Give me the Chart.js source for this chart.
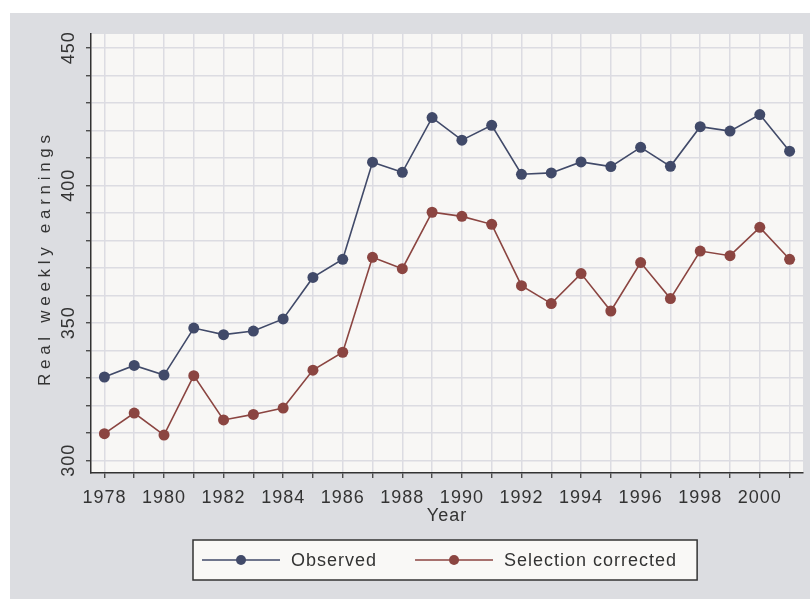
<!DOCTYPE html>
<html lang="en">
<head>
  <meta charset="UTF-8">
  <title>Real weekly earnings</title>
  <script src="https://cdn.jsdelivr.net/npm/chart.js"></script>
  <style>
    html, body { margin: 0; padding: 0; background: #ffffff; }
    #wrap { position: absolute; left: 10px; top: 13px; width: 800px; height: 586px; background: #dcdde1; }
  </style>
</head>
<body>
  <div id="wrap"><canvas id="myChart" width="800" height="586"></canvas></div>

  <script>
    // data
    const years = [1978, 1979, 1980, 1981, 1982, 1983, 1984, 1985, 1986, 1987, 1988, 1989,
                   1990, 1991, 1992, 1993, 1994, 1995, 1996, 1997, 1998, 1999, 2000, 2001];
    const observed = [330.3, 334.5, 331.0, 348.1, 345.7, 347.0, 351.4, 366.5, 373.1, 408.4, 404.7, 424.6,
                      416.4, 421.8, 404.0, 404.5, 408.5, 406.8, 413.8, 406.9, 421.3, 419.7, 425.7, 412.4];
    const corrected = [309.7, 317.2, 309.2, 330.8, 314.7, 316.7, 319.0, 332.8, 339.3, 373.8, 369.7, 390.2,
                       388.7, 385.8, 363.5, 357.0, 367.9, 354.3, 371.9, 358.8, 376.1, 374.4, 384.7, 373.1];
    const yLabels = [300, 350, 400, 450];
    const seriesNames = ['Observed', 'Selection corrected'];
    const seriesColors = ['#414a69', '#8b4541'];
    const yTitle = 'Real weekly earnings';
    const xTitle = 'Year';

    const fontFamily = '"Liberation Sans", Arial, sans-serif';
    const textColor = '#333333';
    Chart.defaults.font.family = fontFamily;
    Chart.defaults.font.size = 18;
    Chart.defaults.color = textColor;

    function toPoints(values) {
      return years.map((yr, i) => ({ x: yr, y: values[i] }));
    }

    // background, letter spacing, y title and boxed legend
    const stataLook = {
      id: 'stataLook',
      beforeLayout(chart) {
        chart.ctx.letterSpacing = '1px';
      },
      beforeDraw(chart) {
        const ctx = chart.ctx;
        const a = chart.chartArea;
        ctx.letterSpacing = '1px';
        ctx.save();
        ctx.fillStyle = '#dcdde1';
        ctx.fillRect(0, 0, chart.width, chart.height);
        ctx.fillStyle = '#f8f7f5';
        ctx.fillRect(a.left, a.top, a.right - a.left, a.bottom - a.top);
        ctx.restore();
      },
      afterDraw(chart) {
        const ctx = chart.ctx;
        const a = chart.chartArea;

        // y axis title, spaced out letters
        ctx.save();
        ctx.font = '17px ' + fontFamily;
        ctx.letterSpacing = '4.7px';
        ctx.fillStyle = textColor;
        ctx.textBaseline = 'alphabetic';
        ctx.textAlign = 'left';
        const tw = ctx.measureText(yTitle).width - 4.7;
        ctx.translate(40, (a.top + a.bottom) / 2 + 7);
        ctx.rotate(-Math.PI / 2);
        ctx.fillText(yTitle, -tw / 2, 0);
        ctx.restore();

        // legend
        ctx.save();
        ctx.font = '18px ' + fontFamily;
        ctx.letterSpacing = '1px';
        const sampleW = 78, textGap = 11, itemGap = 38, padL = 9, padR = 20;
        const widths = seriesNames.map(n => ctx.measureText(n).width);
        let total = padL + padR + itemGap * (seriesNames.length - 1);
        widths.forEach(w => { total += sampleW + textGap + w; });
        const boxL = Math.round((a.left + a.right) / 2 - total / 2) - 2;
        const boxT = 527, boxH = 40;
        ctx.fillStyle = '#f9f8f6';
        ctx.fillRect(boxL, boxT, total, boxH);
        ctx.strokeStyle = '#333333';
        ctx.lineWidth = 1.5;
        ctx.strokeRect(boxL, boxT, total, boxH);
        const cy = boxT + boxH / 2;
        let x = boxL + padL;
        seriesNames.forEach((name, i) => {
          ctx.strokeStyle = seriesColors[i];
          ctx.lineWidth = 1.5;
          ctx.beginPath();
          ctx.moveTo(x, cy);
          ctx.lineTo(x + sampleW, cy);
          ctx.stroke();
          ctx.fillStyle = seriesColors[i];
          ctx.beginPath();
          ctx.arc(x + sampleW / 2, cy, 5, 0, Math.PI * 2);
          ctx.fill();
          ctx.fillStyle = textColor;
          ctx.textAlign = 'left';
          ctx.textBaseline = 'middle';
          ctx.fillText(name, x + sampleW + textGap, cy + 1);
          x += sampleW + textGap + widths[i] + itemGap;
        });
        ctx.restore();
      }
    };

    const ctx = document.getElementById('myChart').getContext('2d');
    const chart = new Chart(ctx, {
      type: 'line',
      data: {
        datasets: [
          {
            label: seriesNames[0],
            data: toPoints(observed),
            borderColor: seriesColors[0],
            backgroundColor: seriesColors[0],
            borderWidth: 1.6,
            pointRadius: 5.5,
            pointBorderWidth: 0,
            pointBackgroundColor: seriesColors[0],
            tension: 0
          },
          {
            label: seriesNames[1],
            data: toPoints(corrected),
            borderColor: seriesColors[1],
            backgroundColor: seriesColors[1],
            borderWidth: 1.6,
            pointRadius: 5.5,
            pointBorderWidth: 0,
            pointBackgroundColor: seriesColors[1],
            tension: 0
          }
        ]
      },
      options: {
        responsive: false,
        animation: false,
        events: [],
        layout: { padding: { left: 0, right: 7, top: 21, bottom: 72 } },
        plugins: {
          legend: { display: false },
          tooltip: { enabled: false }
        },
        scales: {
          x: {
            type: 'linear',
            min: 1977.55,
            max: 2001.45,
            grid: { color: '#dcdce2', lineWidth: 1.5, tickColor: '#333333', tickLength: 5, tickWidth: 1.2 },
            border: { display: true, color: '#333333', width: 1.5 },
            ticks: {
              stepSize: 1,
              includeBounds: false,
              autoSkip: false,
              maxRotation: 0,
              padding: 9,
              color: textColor,
              callback: v => (v % 2 === 0 ? String(v) : '')
            },
            title: { display: true, text: xTitle, color: textColor, font: { size: 18 }, padding: 0 },
            afterFit(scale) { scale.height = 54; }
          },
          y: {
            type: 'linear',
            min: 295.4,
            max: 455,
            grid: { color: '#dcdce2', lineWidth: 1.5, tickColor: '#333333', tickLength: 5, tickWidth: 1.2 },
            border: { display: true, color: '#333333', width: 1.5 },
            ticks: {
              stepSize: 10,
              includeBounds: false,
              autoSkip: false,
              minRotation: 90,
              maxRotation: 90,
              crossAlign: 'center',
              padding: 0,
              color: textColor,
              callback: v => (yLabels.includes(v) ? String(v) : '')
            },
            afterFit(scale) { scale.width = 81; }
          }
        }
      },
      plugins: [stataLook]
    });
  </script>
</body>
</html>
